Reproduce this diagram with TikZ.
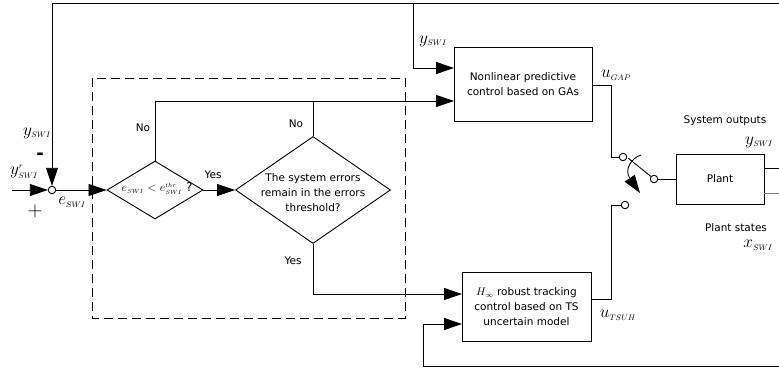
\documentclass[tikz,border=0pt]{standalone}
\usepackage{fontspec}
\setmainfont{DejaVu Sans}
\usetikzlibrary{arrows.meta,shapes.geometric}
\tikzset{
  wire/.style={line width=0.9pt},
  arr/.style={wire,-{Triangle[length=18pt,width=12pt]}},
  blk/.style={draw,wire,inner sep=0pt,align=center,font=\fontsize{10.5}{15}\selectfont},
  dec/.style={draw,wire,diamond,inner sep=0pt},
  contact/.style={draw,wire,circle,fill=white,minimum size=7.5pt,inner sep=0pt},
  txt/.style={font=\fontsize{10.5}{15}\selectfont},
  sig/.style={font=\fontsize{17}{18}\selectfont}
}
\newcommand{\sw}[1]{_{\scriptscriptstyle #1}}
\begin{document}
\begin{tikzpicture}[x=1pt,y=-1pt]
\useasboundingbox (0,0) rectangle (779,369);

% blocks
\node[blk,minimum width=138pt,minimum height=74pt] (npc) at (523,84)
  {Nonlinear predictive\\control based on GAs};
\node[blk,minimum width=129pt,minimum height=69pt] (hinf) at (526.5,306.5)
  {$H_\infty$ robust tracking\\control based on TS\\uncertain model};
\node[blk,minimum width=88pt,minimum height=50pt] (plant) at (720,179) {Plant};

\node[dec,minimum width=96pt,minimum height=58pt] (dec1) at (155,190) {};
\node[inner sep=0pt] (dec1txt) at (157,189) {\fontsize{12}{14}\selectfont$e\sw{SWI} < e\sw{SWI}^{\scriptscriptstyle thr}$ ?};
\node[dec,minimum width=155pt,minimum height=107pt] (dec2) at (313,190) {};
\node[txt,align=center] (dec2txt) at (313,193) {The system errors\\remain in the errors\\threshold?};

\node[contact] (sum) at (52,190) {};
\node[contact] (sw1) at (623,157) {};
\node[contact] (sw2) at (625,205) {};
\node[contact] (swp) at (654,179) {};

% dashed frame
\draw[wire,dash pattern=on 9pt off 5pt] (92,78) rectangle (405,318);

% coordinates
\coordinate (in) at (12,190);
\coordinate (topR) at (779,3);
\coordinate (topL) at (52,3);
\coordinate (br) at (413,3);
\coordinate (npcin1) at (454,68);
\coordinate (npcin2) at (454,101);
\coordinate (hinfin1) at (462,294);
\coordinate (hinfin2) at (462,324);
\coordinate (botR) at (779,366);
\coordinate (botL) at (423,366);
\coordinate (npcout) at (592,85);
\coordinate (k1) at (611,157);
\coordinate (hinfout) at (591,299);
\coordinate (k2) at (611,205);
\coordinate (lev) at (628,158);
\coordinate (outY) at (779,168);
\coordinate (outX) at (779,193);

% connectors
\draw[arr] (in) -- (sum);
\draw[arr] (topR) -- (topL) -- (sum);
\draw[arr] (br) |- (npcin1);
\draw[arr] (sum) -- (dec1);
\draw[arr] (dec1) -- (dec2);
\draw[arr] (dec1.north) |- (npcin2);
\draw[wire] (dec2.north) -- (dec2.north |- npcin2);
\draw[arr] (dec2.south) |- (hinfin1);
\draw[arr] (botR) -- (botL) |- (hinfin2);
\draw[wire] (npcout) -| (k1) -- (sw1);
\draw[wire] (hinfout) -| (k2) -- (sw2);
\draw[wire] (swp) -- (lev);
\draw[wire] (swp) -- (plant);
\draw[arr] (641,155) .. controls (631,158) and (624,170) .. (640,193);
\draw[wire] (plant.east |- outY) -- (outY);
\draw[wire,gray] (plant.east |- outX) -- (outX);

% labels
\node[sig] (lfb) at (37,133) {$y\sw{SWI}$};
\node (lminus) at (40,156) {\fontsize{18}{18}\selectfont\bfseries -};
\node[sig] (lref) at (24,172) {$y\sw{SWI}^{\scriptscriptstyle r}$};
\node[sig] (lplus) at (35,211) {\fontsize{21}{21}\selectfont$+$};
\node[sig] (lerr) at (72,202) {$e\sw{SWI}$};
\node[txt] (no1) at (143,128) {No};
\node[txt] (no2) at (296,124) {No};
\node[txt] (yes1) at (213,175) {Yes};
\node[txt] (yes2) at (293,261) {Yes};
\node[sig] (lynpc) at (433,41) {$y\sw{SWI}$};
\node[sig] (lugap) at (616,75) {$u\sw{GAP}$};
\node[sig] (lutsuh) at (618,315) {$u\sw{TSUH}$};
\node[txt] (lsysout) at (725,121) {System outputs};
\node[sig] (lyout) at (759,142) {$y\sw{SWI}$};
\node[txt] (lstates) at (736,228) {Plant states};
\node[sig] (lxout) at (758,245) {$x\sw{SWI}$};
\end{tikzpicture}
\end{document}
